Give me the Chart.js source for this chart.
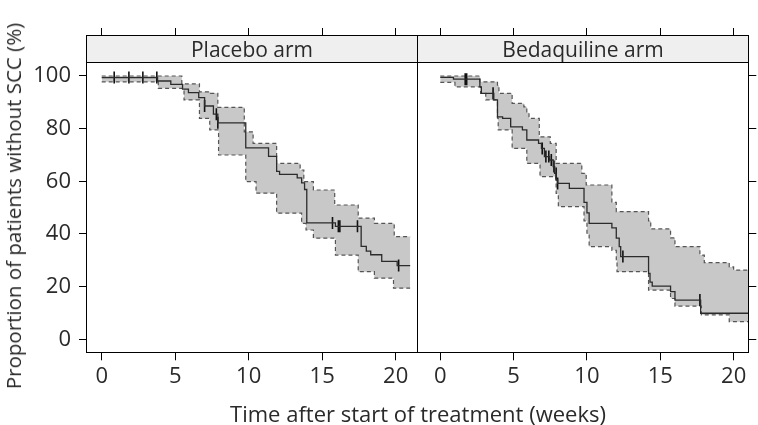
<!DOCTYPE html>
<html>
<head>
<meta charset="utf-8">
<script src="https://cdn.jsdelivr.net/npm/chart.js@4.4.1/dist/chart.umd.min.js"></script>
<style>
  html, body { margin: 0; padding: 0; background: #fff; }
  #wrap { position: relative; width: 758px; height: 425px; overflow: hidden; font-family: "Open Sans", sans-serif; color: #2a2a2a; }
  canvas { position: absolute; top: 0; }
  .box { position: absolute; border: 1px solid #000; box-sizing: border-box; pointer-events: none; }
  .strip { position: absolute; background: #efefef; border-bottom: 1px solid #000; box-sizing: border-box;
           font-size: 21px; text-align: center; line-height: 26px; color: #2a2a2a; }
  .title { position: absolute; font-size: 22px; line-height: 22px; white-space: nowrap; color: #2a2a2a; }
</style>
</head>
<body>
<div id="wrap">
  <canvas id="cL" width="418" height="425" style="left:0px"></canvas>
  <canvas id="cR" width="340" height="425" style="left:418px"></canvas>
  <div class="strip" style="left:87px; top:36px; width:330px; height:27px;">Placebo arm</div>
  <div class="strip" style="left:418px; top:36px; width:330px; height:27px;">Bedaquiline arm</div>
  <div class="box" style="left:86px; top:35px; width:332px; height:318px;"></div>
  <div class="box" style="left:417px; top:35px; width:332px; height:318px;"></div>
  <div class="title" id="xt" style="left:418px; top:402px; transform:translateX(-50%);">Time after start of treatment (weeks)</div>
  <div class="title" id="yt" style="left:13px; top:206px; font-size:20.5px; transform:translate(-50%,-50%) rotate(-90deg);">Proportion of patients without SCC (%)</div>
</div>
<script>
// ---- data ----
const xTicks = [0, 5, 10, 15, 20];
const yTicks = [0, 20, 40, 60, 80, 100];

// Placebo arm: Kaplan-Meier estimate
const placeboT = [0, 3.8, 4.7, 5.5, 5.9, 6.6, 7.0, 7.6, 7.9, 9.8, 11.35, 11.9, 12.1, 13.3, 13.6, 13.8, 13.95, 15.9, 17.65, 18.0, 18.3, 19.05, 20.1, 21];
const placeboS = [99.4, 98.1, 96.8, 95.0, 93.7, 91.8, 88.6, 85.5, 82.2, 72.7, 69.5, 63.8, 62.6, 61.3, 59.4, 56.9, 44.2, 42.9, 35.3, 33.5, 32.1, 29.6, 28.0, 28.0];
// Placebo arm: upper / lower confidence limits
const placeboUpT = [0, 5.45, 6.65, 7.4, 7.9, 9.7, 10.3, 11.9, 13.5, 13.75, 14.4, 15.85, 17.45, 18.55, 19.9, 21];
const placeboUp  = [100, 97.0, 94.0, 93.4, 88.1, 78.8, 74.4, 66.8, 64.3, 59.9, 56.7, 51.0, 46.0, 44.0, 39.0, 39.0];
const placeboLoT = [0, 3.85, 5.6, 6.65, 7.35, 7.95, 9.8, 10.5, 11.9, 13.6, 13.9, 14.4, 15.9, 17.45, 18.55, 19.85, 21];
const placeboLo  = [97.8, 95.3, 90.9, 83.9, 79.5, 70.0, 59.9, 55.5, 47.9, 44.0, 41.5, 38.4, 32.0, 25.7, 23.2, 19.4, 19.4];
// Placebo arm: censored observations
const placeboCensT = [0.85, 1.85, 2.8, 3.75, 7.0, 7.8, 7.9, 15.7, 16.1, 16.2, 17.4, 20.2];
const placeboCensS = [99.4, 99.4, 99.4, 99.4, 88.6, 85.5, 82.2, 44.2, 42.9, 42.9, 42.9, 28.0];

// Bedaquiline arm: Kaplan-Meier estimate
const bedaqT = [0, 0.9, 2.7, 2.8, 3.65, 3.9, 4.25, 4.8, 5.6, 5.9, 6.7, 6.9, 7.1, 7.45, 7.7, 7.8, 7.9, 8.0, 8.8, 9.8, 10.0, 10.15, 11.7, 12.0, 12.2, 12.3, 14.2, 14.3, 14.45, 15.7, 16.0, 17.75, 21];
const bedaqS = [99.5, 98.8, 95.9, 93.4, 90.9, 84.5, 83.9, 80.7, 79.5, 75.7, 74.4, 72.5, 69.4, 68.1, 65.6, 63.0, 60.5, 59.2, 57.3, 52.0, 48.0, 44.0, 42.3, 38.4, 35.2, 31.4, 25.0, 21.7, 20.2, 18.1, 14.9, 9.9, 9.9];
// Bedaquiline arm: upper / lower confidence limits
const bedaqUpT = [0, 2.7, 3.9, 4.0, 4.9, 5.7, 5.9, 6.05, 6.75, 7.5, 7.9, 9.65, 9.95, 11.7, 12.0, 14.2, 14.35, 15.7, 16.0, 17.7, 18.0, 19.7, 20.0, 21];
const bedaqUp  = [100, 97.8, 96.5, 93.4, 89.6, 88.3, 86.0, 83.9, 76.9, 74.4, 66.8, 63.0, 58.6, 52.0, 48.5, 45.0, 41.9, 38.5, 35.2, 32.0, 29.1, 27.5, 26.3, 26.3];
const bedaqLoT = [0, 1.0, 2.75, 3.1, 3.9, 3.95, 4.9, 5.9, 6.8, 7.9, 8.05, 9.8, 10.0, 10.15, 11.7, 12.0, 12.05, 14.2, 15.7, 16.0, 17.8, 19.7, 21];
const bedaqLo  = [97.6, 95.9, 93.4, 90.9, 84.0, 79.5, 72.5, 66.8, 61.8, 55.4, 50.4, 45.0, 40.0, 35.2, 33.8, 30.0, 25.7, 18.7, 15.5, 12.6, 9.3, 6.7, 6.7];
// Bedaquiline arm: censored observations
const bedaqCensT = [1.7, 1.8, 3.6, 6.95, 7.2, 7.4, 7.57, 7.75, 7.9, 8.0, 12.45, 17.7];
const bedaqCensS = [98.8, 98.8, 93.4, 72.5, 69.4, 69.4, 68.1, 65.6, 63.0, 59.2, 31.4, 14.9];

// ---- drawing ----
const pts = (xs, ys) => xs.map((x, i) => ({ x: x, y: ys[i] }));
const TXT = '#2a2a2a';
const FONT = { family: '"Open Sans", sans-serif', size: 22 };
const X_MIN = -1, X_MAX = 21, Y_MIN = -4.94, Y_MAX = 115.19;

function gridOpts() {
  return { drawOnChartArea: false, drawTicks: true, tickLength: 8, tickColor: '#000', tickWidth: 1, color: '#000' };
}

function makePanel(id, isLeft, mT, mS, uT, uS, lT, lS, cT, cS) {
  const scales = {
    x: {
      type: 'linear', position: 'bottom', min: X_MIN, max: X_MAX,
      afterBuildTicks: s => { s.ticks = xTicks.map(v => ({ value: v })); },
      afterFit: s => { s.height = 72.7; },
      grid: gridOpts(), border: { display: false },
      ticks: { font: FONT, color: TXT, padding: 3, maxRotation: 0, autoSkip: false }
    },
    xTop: {
      type: 'linear', position: 'top', min: X_MIN, max: X_MAX,
      afterBuildTicks: s => { s.ticks = xTicks.map(v => ({ value: v })); },
      afterFit: s => { s.height = 36; },
      grid: gridOpts(), border: { display: false },
      ticks: { display: false }
    },
    y: {
      type: 'linear', position: 'left', min: Y_MIN, max: Y_MAX, display: isLeft,
      afterBuildTicks: s => { s.ticks = yTicks.map(v => ({ value: v })); },
      afterFit: s => { s.width = isLeft ? 87 : 0; },
      grid: gridOpts(), border: { display: false },
      ticks: { font: FONT, color: TXT, padding: 8, autoSkip: false }
    }
  };
  if (!isLeft) {
    scales.y2 = {
      type: 'linear', position: 'right', min: Y_MIN, max: Y_MAX,
      afterBuildTicks: s => { s.ticks = yTicks.map(v => ({ value: v })); },
      afterFit: s => { s.width = 9.7; },
      grid: gridOpts(), border: { display: false },
      ticks: { display: false }
    };
  }
  return new Chart(document.getElementById(id), {
    type: 'line',
    data: {
      datasets: [
        { data: pts(mT, mS), stepped: true, borderColor: '#2b2b2b', borderWidth: 1.3, pointRadius: 0, fill: false },
        { data: pts(cT, cS), showLine: false, pointStyle: 'line', pointRotation: 90, pointRadius: 6,
          pointBorderWidth: 1.6, pointBorderColor: '#111', pointBackgroundColor: '#111', fill: false },
        { data: pts(uT, uS), stepped: true, borderColor: '#555', borderWidth: 1.2, borderDash: [4, 3],
          pointRadius: 0, fill: '+1', backgroundColor: '#c8c8c8' },
        { data: pts(lT, lS), stepped: true, borderColor: '#555', borderWidth: 1.2, borderDash: [4, 3],
          pointRadius: 0, fill: false }
      ]
    },
    options: {
      responsive: false, animation: false, events: [],
      layout: { padding: 0 },
      plugins: { legend: { display: false }, tooltip: { enabled: false }, filler: { drawTime: 'beforeDatasetsDraw' } },
      scales: scales
    }
  });
}

makePanel('cL', true, placeboT, placeboS, placeboUpT, placeboUp, placeboLoT, placeboLo, placeboCensT, placeboCensS);
makePanel('cR', false, bedaqT, bedaqS, bedaqUpT, bedaqUp, bedaqLoT, bedaqLo, bedaqCensT, bedaqCensS);
</script>
</body>
</html>
